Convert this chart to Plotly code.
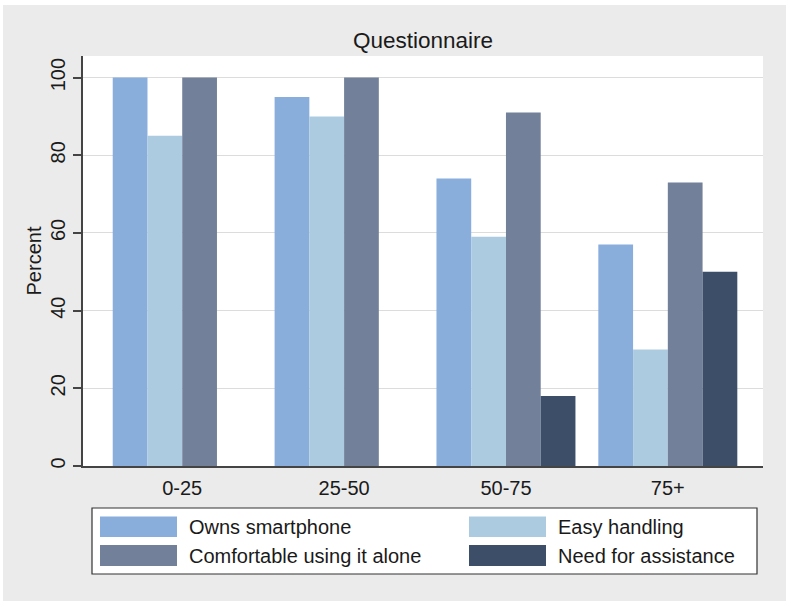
import plotly.graph_objects as go

categories = ["0-25", "25-50", "50-75", "75+"]
series_names = ["Owns smartphone", "Easy handling", "Comfortable using it alone", "Need for assistance"]
owns_smartphone = [100, 95, 74, 57]
easy_handling = [85, 90, 59, 30]
comfortable_alone = [100, 100, 91, 73]
need_assistance = [None, None, 18, 50]
y_ticks = [0, 20, 40, 60, 80, 100]
colors = ["#8aaedc", "#adcbe0", "#728099", "#3d4e68"]

values = [owns_smartphone, easy_handling, comfortable_alone, need_assistance]

W, H = 791, 607
L, R, T, B = 83, 763, 56, 466  # plot area in pixels


def px(x):
    return (x - L) / (R - L)


def py(y):
    return (B - y) / (B - T)


fig = go.Figure()
for name, vals, col in zip(series_names, values, colors):
    fig.add_trace(go.Bar(x=categories, y=vals, name=name, marker=dict(color=col, line=dict(width=0)),
                         showlegend=False))

shapes = [
    dict(type="rect", xref="paper", yref="paper", x0=px(3), x1=px(786), y0=py(601), y1=py(5),
         fillcolor="#ebebeb", line=dict(width=0), layer="below"),
    dict(type="rect", xref="paper", yref="paper", x0=0, x1=1, y0=0, y1=1,
         fillcolor="white", line=dict(width=0), layer="below"),
    # legend box
    dict(type="rect", xref="paper", yref="paper", x0=px(92), x1=px(757), y0=py(574), y1=py(508),
         fillcolor="white", line=dict(color="#333333", width=1.2), layer="above"),
]
annotations = []
legend_pos = [(100, 516.5, 537), (469, 516.5, 537), (100, 545, 566), (469, 545, 566)]
for (x0, y0, y1), name, col in zip(legend_pos, series_names, colors):
    shapes.append(dict(type="rect", xref="paper", yref="paper", x0=px(x0), x1=px(x0 + 77),
                       y0=py(y1), y1=py(y0), fillcolor=col, line=dict(width=0), layer="above"))
    annotations.append(dict(xref="paper", yref="paper", x=px(x0 + 87), y=py((y0 + y1) / 2),
                            text=name, showarrow=False, xanchor="left", yanchor="middle",
                            font=dict(size=20, color="#1a1a1a", family="Liberation Sans")))

fig.update_layout(
    width=W, height=H,
    margin=dict(l=L, r=W - R, t=T, b=H - B, pad=0),
    paper_bgcolor="white",
    plot_bgcolor="white",
    barmode="group",
    bargap=0.1414,
    bargroupgap=0,
    font=dict(family="Liberation Sans", size=20, color="#1a1a1a"),
    title=dict(text="Questionnaire", x=423 / W, xref="container", xanchor="center",
               y=1 - 40 / H, yref="container", yanchor="middle",
               font=dict(size=22.5, color="#1a1a1a")),
    xaxis=dict(range=[-0.613, 3.588], showline=True, linecolor="#444444", linewidth=1.5,
               ticks="", showgrid=False, tickfont=dict(size=20), ticklabelstandoff=3),
    yaxis=dict(range=[0, (B - T) / 3.884], tickvals=y_ticks, showline=True, linecolor="#444444",
               linewidth=1.5, ticks="outside", ticklen=8, tickcolor="#444444", tickwidth=1.5,
               tickangle=-90, showgrid=True, gridcolor="#dcdcdc", gridwidth=1, zeroline=False,
               title=dict(text="Percent", font=dict(size=20), standoff=0),
               tickfont=dict(size=20)),
    shapes=shapes,
    annotations=annotations,
)

fig.write_html("out.html", config={"displayModeBar": False},
               post_script="document.body.style.margin='0';document.body.style.overflow='hidden';")
